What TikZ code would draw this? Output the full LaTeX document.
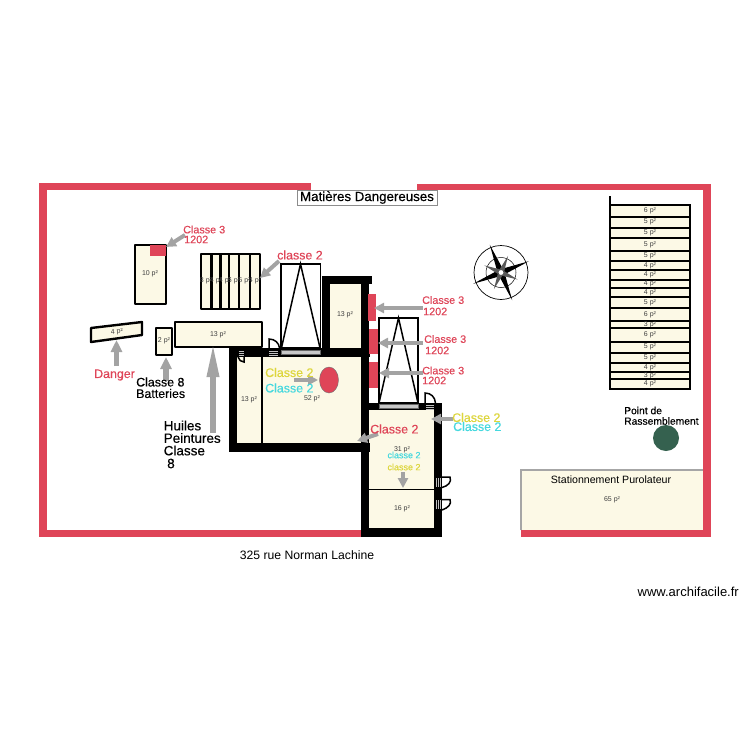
\documentclass[tikz,border=0pt]{standalone}
\usepackage{fontspec}
\setmainfont{Liberation Sans}
\newfontfamily\lbl[FakeBold=0.25]{Liberation Sans}
\usetikzlibrary{arrows.meta}
\definecolor{wallred}{HTML}{DF4558}
\definecolor{roomfill}{HTML}{FCF9E6}
\definecolor{garrow}{HTML}{A3A3A3}
\definecolor{cyanlab}{HTML}{45D8DE}
\definecolor{yellab}{HTML}{DDD63C}
\definecolor{assembly}{HTML}{35614F}
\tikzset{
  x=1pt,y=-1pt,
  room/.style={draw=black,line width=2.4pt,fill=roomfill,line join=round},
  wall/.style={fill=black,draw=none},
  redwall/.style={fill=wallred,draw=none},
  redbox/.style={fill=wallred,draw=none},
  area/.style={font=\fontsize{7}{7}\selectfont,text=black!75,inner sep=0pt},
  lab/.style={font=\lbl\fontsize{12.4}{12}\selectfont,inner sep=0pt,anchor=west},
  labs/.style={font=\lbl\fontsize{10.8}{10}\selectfont,inner sep=0pt,anchor=west},
  garr/.style={draw=garrow,line width=4pt,-{Triangle[length=10pt,width=10pt,fill=garrow]}},
  garrw/.style={draw=garrow,line width=5.5pt,-{Triangle[length=12pt,width=11pt,fill=garrow]}},
  garrbig/.style={draw=garrow,line width=6pt,-{Triangle[length=36pt,width=11pt,fill=garrow]}},
  whitebox/.style={draw=black,line width=1.5pt,fill=white},
  windowbar/.style={draw=black!60,line width=.6pt,fill=black!22},
  doorline/.style={black,line width=1.5pt},
  stripe/.style={draw=black!25,line width=.8pt},
}
\begin{document}
\begin{tikzpicture}
\useasboundingbox (0,0) rectangle (750,750);
\fill[white] (0,0) rectangle (750,750);
% outer red wall
\fill[redwall] (39,183) rectangle (311,190);
\fill[redwall] (417,184) rectangle (711,190);
\fill[redwall] (39,183) rectangle (47,537);
\fill[redwall] (703,184) rectangle (711,537);
\fill[redwall] (39,530) rectangle (368,537);
\fill[redwall] (521,530) rectangle (711,537);
% parking
\fill[roomfill] (521,470) rectangle (703,530);
\draw[black!35,line width=1.4pt] (521,530) -- (521,470) -- (703,470);
\node[area] (p65) at (612,500) {65 p²};
\node[font=\fontsize{10.6}{10}\selectfont,inner sep=0pt] (parking) at (611,479.5) {Stationnement Purolateur};
% free rooms
\draw[room] (135,245) rectangle (166,304);
\fill[redbox] (150,245) rectangle (166,256);
\node[area] (p10) at (150,274) {10 p²};
\draw[room] (201,254) rectangle (260,309);
\foreach \x in {211.5,220.5,229,239,250} \draw[black,line width=2.4pt] (\x,254) -- (\x,309);
\node[area] (s1) at (206,281) {8 p²};
\node[area] (s2) at (216,281) {4 p²};
\node[area] (s3) at (225,281) {4 p²};
\node[area] (s4) at (234,281) {5 p²};
\node[area] (s5) at (244.5,281) {6 p²};
\node[area] (s6) at (255,281) {4 p²};
\draw[room] (91,328) -- (142,322) -- (142,335) -- (91,342) -- cycle;
\node[area,rotate=6] (p4) at (117,332) {4 p²};
\draw[room] (156,328) rectangle (172,355);
\node[area] (p2) at (164,341) {2 p²};
\draw[room] (175,322) rectangle (262,347);
\node[area] (p13a) at (218,335) {13 p²};
% thick walled building
\fill[roomfill] (237,357) rectangle (361,443);
\fill[roomfill] (330,284) rectangle (361,348);
\fill[roomfill] (369,410) rectangle (434,528);
\fill[wall] (229,348) rectangle (370,357);
\fill[wall] (229,348) rectangle (237,452);
\fill[wall] (229,443) rectangle (370,452);
\fill[wall] (322,276) rectangle (330,357);
\fill[wall] (322,276) rectangle (372,284);
\fill[wall] (361,276) rectangle (369,537);
\fill[wall] (361,403) rectangle (442,410);
\fill[wall] (434,403) rectangle (442,537);
\fill[wall] (361,528) rectangle (442,537);
\draw[black,line width=1.4pt] (262,357) -- (262,443);
\draw[black,line width=1.4pt] (369,489.5) -- (434,489.5);
\node[area] (p13b) at (345,315) {13 p²};
\node[area] (p13c) at (249,400) {13 p²};
\node[area] (p52) at (312,399) {52 p²};
\node[area] (p31) at (402,450) {31 p²};
\node[area] (p16) at (402,509) {16 p²};
% white frames with triangles
\draw[whitebox] (281,264) rectangle (320.5,348);
\draw[black,line width=1.5pt] (281,350) -- (300.5,264) -- (320.5,350);
\draw[windowbar] (281,350) rectangle (320,354.5);
\draw[whitebox] (379,318) rectangle (418,403);
\draw[black,line width=1.5pt] (379,403) -- (398.5,318) -- (418,403);
\draw[windowbar] (379,404) rectangle (418,408.5);
% doors
\draw[doorline] (269,348) -- (269,339) .. controls (275,339) and (279,343) .. (279.5,348);
\foreach \y in {351,353,355} \draw[stripe] (269,\y) -- (278,\y);
\foreach \y in {351,353,355} \draw[stripe] (238.5,\y) -- (243.5,\y);
\draw[doorline] (238,357) .. controls (239,360) and (241,362) .. (244,362) -- (244,357);
\foreach \y in {405,407,409} \draw[stripe] (426,\y) -- (434,\y);
\draw[doorline] (425,403) -- (425,393) .. controls (431,393) and (435,397) .. (435.5,403);
\foreach \x in {436,438,440}{
  \draw[stripe] (\x,478) -- (\x,487);
  \draw[stripe] (\x,500) -- (\x,509);
}
\draw[doorline] (442,477) -- (450,477) .. controls (452,482) and (448,486) .. (442,487.5);
\draw[doorline] (442,499.5) -- (450,499.5) .. controls (452,504) and (448,508) .. (442,510);
% red boxes on wall
\fill[redbox] (368,294) rectangle (376,321);
\fill[redbox] (369,329) rectangle (378,354);
\fill[redbox] (369,362) rectangle (378,388);
% red ellipse
\draw[fill=wallred,draw=black!55,line width=.4pt] (329,380) ellipse[x radius=9.5,y radius=13];
% stair list
\draw[black,line width=2pt] (610,196) -- (610,205);
\foreach \a/\b/\t in {205/216.7/6,216.7/227.7/5,227.7/238/5,238/250.7/5,250.7/261/5,261/270/4,270/280/4,280/288/4,288/296.7/4,296.7/308/5,308/320.7/6,320.7/328/3,328/341.7/6,341.7/352.7/5,352.7/363/5,363/371.7/4,371.7/379/3,379/389/4}{
  \draw[draw=black,line width=2pt,fill=roomfill] (610,\a) rectangle (690,\b);
  \node[area] at (650,{(\a+\b)/2}) {\t\ p²};
}
% compass
\begin{scope}[shift={(501,272.5)}]
\draw[black,line width=.7pt] (0,0) circle[radius=27];
\draw[black,line width=.5pt] (0,0) circle[radius=15];
\foreach \r in {22,112,202,292}{
  \fill[black,rotate=\r] (0,0) -- (3,3) -- (30,0) -- (3,-3) -- cycle;
}
\foreach \r in {67,157,247,337}{
  \fill[black!65,rotate=\r] (0,0) -- (2.5,2.5) -- (18,0) -- (2.5,-2.5) -- cycle;
}
\fill[white] (0,0) circle[radius=2.4];
\end{scope}
% arrows
\coordinate (a1s) at (185,235); \coordinate (a1e) at (166,247);
\coordinate (a2s) at (279,261); \coordinate (a2e) at (260,278);
\coordinate (a3s) at (116.5,366); \coordinate (a3e) at (116.5,340);
\coordinate (a4s) at (166,381); \coordinate (a4e) at (166,357);
\coordinate (a5s) at (213,433); \coordinate (a5e) at (213,341);
\coordinate (a6s) at (294,380); \coordinate (a6e) at (318,380);
\coordinate (a7s) at (378,434); \coordinate (a7e) at (357,441);
\coordinate (a8s) at (423,308); \coordinate (a8e) at (374,308);
\coordinate (a9s) at (423,343); \coordinate (a9e) at (378,343);
\coordinate (a10s) at (423,373); \coordinate (a10e) at (379,373);
\coordinate (a11s) at (453,419); \coordinate (a11e) at (431,419);
\coordinate (a12s) at (403,472); \coordinate (a12e) at (403,488);
\foreach \i in {1,2,6,7,8,9,10,11,12} \draw[garr] (a\i s) -- (a\i e);
\foreach \i in {3,4} \draw[garrw] (a\i s) -- (a\i e);
\draw[garrbig] (a5s) -- (a5e);
% labels
\node[labs,text=wallred] (l1) at (183,229.5) {Classe 3};
\node[labs,text=wallred] (l1b) at (184,239.5) {1202};
\node[lab,text=wallred] (l2) at (277,255) {classe 2};
\node[lab,text=wallred] (l3) at (94,375) {Danger};
\node[lab] (l4) at (136,382) {Classe 8};
\node[lab] (l4b) at (136,393.5) {Batteries};
\node[lab,font=\lbl\fontsize{13.5}{13}\selectfont] (l5) at (163.5,425.5) {Huiles};
\node[lab,font=\lbl\fontsize{13.5}{13}\selectfont] (l5b) at (163.5,438) {Peintures};
\node[lab,font=\lbl\fontsize{13.5}{13}\selectfont] (l5c) at (163.5,450.5) {Classe};
\node[lab,font=\lbl\fontsize{13.5}{13}\selectfont] (l5d) at (167,463.5) {8};
\node[lab,text=yellab] (l6) at (265,372.5) {Classe 2};
\node[lab,text=cyanlab] (l6b) at (265,388) {Classe 2};
\node[lab,text=wallred] (l7) at (370,429) {Classe 2};
\node[labs,text=wallred] (l8) at (422,300) {Classe 3};
\node[labs,text=wallred] (l8b) at (423,311.5) {1202};
\node[labs,text=wallred] (l9) at (424,339) {Classe 3};
\node[labs,text=wallred] (l9b) at (425,350.5) {1202};
\node[labs,text=wallred] (l10) at (422,370.5) {Classe 3};
\node[labs,text=wallred] (l10b) at (422,380.5) {1202};
\node[lab,text=yellab] (l11) at (452,417.5) {Classe 2};
\node[lab,text=cyanlab] (l11b) at (453,426.5) {Classe 2};
\node[font=\lbl\fontsize{9}{9}\selectfont,inner sep=0pt,text=cyanlab] (l12) at (404,455) {classe 2};
\node[font=\lbl\fontsize{9}{9}\selectfont,inner sep=0pt,text=yellab] (l12b) at (404,467) {classe 2};
\node[font=\lbl\fontsize{10.3}{10}\selectfont,inner sep=0pt,anchor=west] (pt) at (624,410.5) {Point de};
\node[font=\lbl\fontsize{10.3}{10}\selectfont,inner sep=0pt,anchor=west] (ptb) at (624,421) {Rassemblement};
\fill[assembly] (666,438) circle[radius=13];
% title
\node[draw=black!45,line width=.6pt,fill=white,font=\lbl\fontsize{13.3}{13}\selectfont,minimum width=140pt,minimum height=15pt,inner sep=0pt] (title) at (367,197.5) {Matières Dangereuses};
\node[font=\fontsize{12.2}{12}\selectfont,inner sep=0pt] (addr) at (307,555) {325 rue Norman Lachine};
\node[font=\fontsize{13}{13}\selectfont,inner sep=0pt,anchor=east] (web) at (739,591.5) {www.archifacile.fr};
\end{tikzpicture}
\end{document}
